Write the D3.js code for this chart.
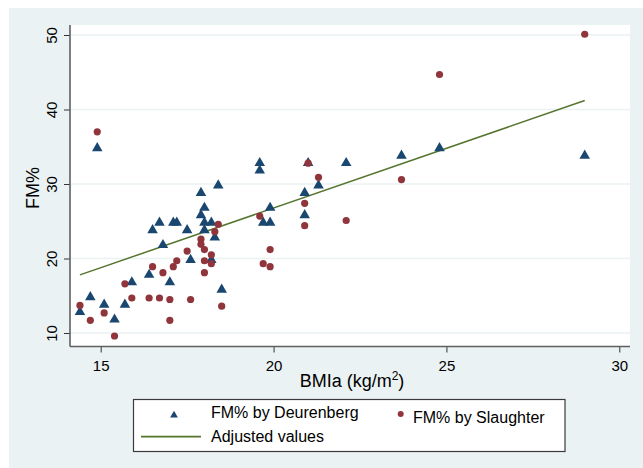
<!DOCTYPE html>
<html><head><meta charset="utf-8">
<script src="https://cdn.jsdelivr.net/npm/d3@7"></script>
<style>
body{margin:0;background:#fff;}
svg{display:block;}
text{font-family:"Liberation Sans", Arial, Helvetica, sans-serif;fill:#000;}
</style>
</head><body>
<svg id="chart" width="643" height="468"></svg>
<script>
// ---- data ----
const deurenbergBMI = [14.4,14.7,14.9,15.1,15.4,15.7,15.9,16.4,16.5,16.7,16.8,17.0,17.1,17.2,17.5,17.6,17.9,17.9,18.0,18.0,18.0,18.2,18.2,18.3,18.4,18.5,19.6,19.6,19.7,19.9,19.9,20.9,20.9,21.0,21.3,22.1,23.7,24.8,29.0];
const deurenbergFM  = [13,15,35,14,12,14,17,18,24,25,22,17,25,25,24,20,29,26,27,25,24,25,20,23,30,16,33,32,25,27,25,29,26,33,30,33,34,35,34];
const slaughterBMI  = [14.4,14.7,14.9,15.1,15.4,15.7,15.9,16.4,16.5,16.7,16.8,17.0,17.0,17.1,17.2,17.5,17.6,17.9,17.9,18.0,18.0,18.0,18.2,18.2,18.3,18.4,18.5,19.6,19.7,19.9,19.9,20.9,20.9,21.0,21.3,22.1,23.7,24.8,29.0];
const slaughterFM   = [13.7,11.7,37.0,12.7,9.6,16.6,14.7,14.7,18.9,14.7,18.1,14.5,11.7,18.9,19.7,21.0,14.5,22.6,21.9,21.2,19.7,18.1,20.5,19.3,23.6,24.6,13.6,25.7,19.3,21.2,18.9,27.4,24.4,32.8,30.9,25.1,30.6,44.7,50.1];
const adjustedBMI   = [14.4, 29.0];
const adjustedFM    = [17.8, 41.2];
const xTicks = [15, 20, 25, 30];
const yTicks = [10, 20, 30, 40, 50];
const legendLabels = ["FM% by Deurenberg", "FM% by Slaughter", "Adjusted values"];

// ---- layout ----
const W = 643, H = 468;
const plot = {left: 70, right: 630, top: 25, bottom: 346.5};
const C = {bg: "#eaf2f3", grid: "#eaf2f3", navy: "#1a476f", maroon: "#90353b", green: "#55752f", axis: "#5f5f5f"};

const svg = d3.select("#chart");
svg.append("rect").attr("x", 9).attr("y", 8).attr("width", W - 9).attr("height", H - 8).attr("fill", C.bg);
svg.append("rect").attr("x", plot.left).attr("y", plot.top)
   .attr("width", plot.right - plot.left).attr("height", plot.bottom - plot.top).attr("fill", "#fff");

const x = d3.scaleLinear().domain([15, 30]).range([100.7, 619.3]);
const y = d3.scaleLinear().domain([10, 50]).range([333, 35]);

// gridlines
svg.append("g").selectAll("line").data(yTicks).join("line")
  .attr("x1", plot.left).attr("x2", plot.right)
  .attr("y1", d => y(d)).attr("y2", d => y(d))
  .attr("stroke", C.grid).attr("stroke-width", 1.6);

// axes
const xAxis = svg.append("g").attr("transform", `translate(0,${plot.bottom})`)
  .call(d3.axisBottom(x).tickValues(xTicks).tickSize(6).tickPadding(4).tickFormat(d3.format("d")));
xAxis.select(".domain").remove();
xAxis.selectAll(".tick line").attr("stroke", "#333").attr("stroke-width", 1);
xAxis.selectAll(".tick text").attr("font-size", 15).attr("font-family", '"Liberation Sans", Arial, sans-serif').attr("dy", "0.95em");

const yAxis = svg.append("g").attr("transform", `translate(${plot.left},0)`)
  .call(d3.axisLeft(y).tickValues(yTicks).tickSize(6).tickFormat(d3.format("d")));
yAxis.select(".domain").remove();
yAxis.selectAll(".tick line").attr("stroke", "#333").attr("stroke-width", 1);
yAxis.selectAll(".tick text")
  .attr("font-size", 15).attr("font-family", '"Liberation Sans", Arial, sans-serif')
  .attr("text-anchor", "middle").attr("x", null).attr("dy", null)
  .attr("transform", "translate(-13,0) rotate(-90)");

svg.append("line").attr("x1", plot.left).attr("x2", plot.left).attr("y1", plot.top).attr("y2", plot.bottom)
  .attr("stroke", C.axis).attr("stroke-width", 1.6);
svg.append("line").attr("x1", plot.left).attr("x2", plot.right).attr("y1", plot.bottom).attr("y2", plot.bottom)
  .attr("stroke", C.axis).attr("stroke-width", 1.6);

// axis titles
const xt = svg.append("text").attr("x", 352).attr("y", 387).attr("text-anchor", "middle").attr("font-size", 18);
xt.append("tspan").text("BMIa (kg/m");
xt.append("tspan").attr("font-size", 12).attr("dy", -7).text("2");
xt.append("tspan").attr("dy", 7).text(")");

svg.append("text").attr("transform", "translate(39,188) rotate(-90)")
  .attr("text-anchor", "middle").attr("font-size", 18).text("FM%");

// fitted line
const lineData = adjustedBMI.map((b, i) => [b, adjustedFM[i]]);
svg.append("path").datum(lineData)
  .attr("d", d3.line().x(d => x(d[0])).y(d => y(d[1])))
  .attr("fill", "none").attr("stroke", C.green).attr("stroke-width", 1.5);

// markers
const tri = d3.symbol().type(d3.symbolTriangle).size(48);
const triOff = 1.4;
svg.append("g").selectAll("path").data(deurenbergBMI.map((b, i) => [b, deurenbergFM[i]])).join("path")
  .attr("d", tri)
  .attr("transform", d => `translate(${x(d[0])},${y(d[1]) + triOff})`)
  .attr("fill", C.navy);

svg.append("g").selectAll("circle").data(slaughterBMI.map((b, i) => [b, slaughterFM[i]])).join("circle")
  .attr("cx", d => x(d[0])).attr("cy", d => y(d[1])).attr("r", 3.6)
  .attr("fill", C.maroon);

// legend
const lg = svg.append("g");
lg.append("rect").attr("x", 133.5).attr("y", 399.5).attr("width", 431.5).attr("height", 52)
  .attr("fill", "#fff").attr("stroke", "#3a3a3a").attr("stroke-width", 1.2);
lg.append("path").attr("d", d3.symbol().type(d3.symbolTriangle).size(26))
  .attr("transform", "translate(174,415.2)").attr("fill", C.navy);
lg.append("text").attr("x", 211).attr("y", 418).attr("font-size", 16).text(legendLabels[0]);
lg.append("circle").attr("cx", 400.7).attr("cy", 414).attr("r", 3).attr("fill", C.maroon);
lg.append("text").attr("x", 413).attr("y", 422.5).attr("font-size", 16).text(legendLabels[1]);
lg.append("line").attr("x1", 141).attr("x2", 201).attr("y1", 436.7).attr("y2", 436.7)
  .attr("stroke", C.green).attr("stroke-width", 1.8);
lg.append("text").attr("x", 211).attr("y", 441.5).attr("font-size", 16).text(legendLabels[2]);
</script>
</body></html>
